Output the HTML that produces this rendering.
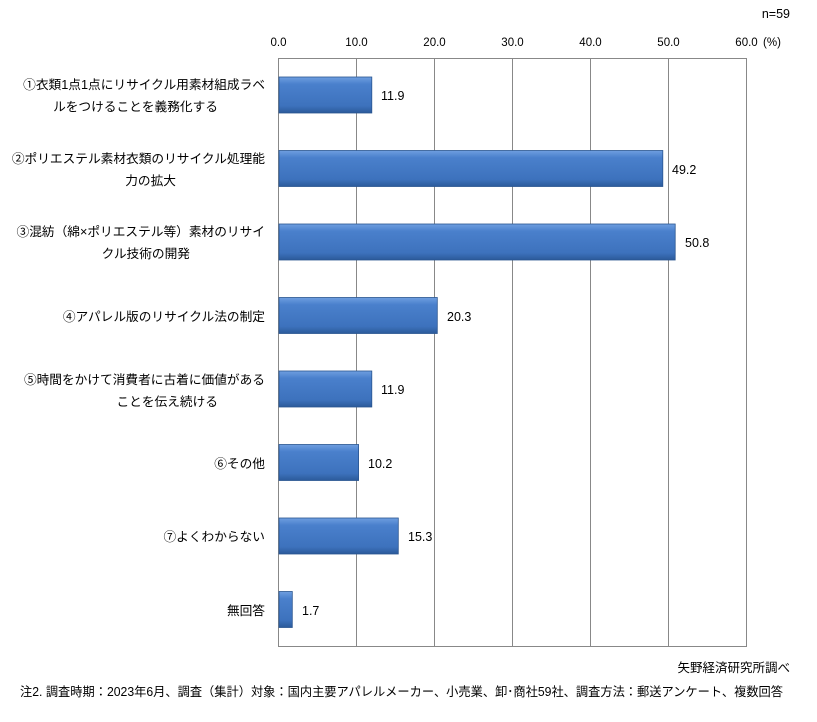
<!DOCTYPE html>
<html><head><meta charset="utf-8"><style>
body{margin:0;background:#fff}
svg text{font-family:"Liberation Sans","Noto Sans CJK JP",sans-serif;fill:#000}
</style></head><body>
<svg width="817" height="717" viewBox="0 0 817 717">
<defs>
<linearGradient id="g" x1="0" y1="0" x2="0" y2="1">
<stop offset="0" stop-color="#6f9fe0"/><stop offset="0.2" stop-color="#4a80cc"/><stop offset="0.8" stop-color="#3d72bd"/><stop offset="1" stop-color="#2b5a9a"/>
</linearGradient>
</defs>
<text x="790" y="18" font-size="12.5" text-anchor="end">n=59</text>
<g font-size="11.5" text-anchor="middle">
<text x="278.5" y="46">0.0</text><text x="356.5" y="46">10.0</text><text x="434.5" y="46">20.0</text><text x="512.5" y="46">30.0</text><text x="590.5" y="46">40.0</text><text x="668.5" y="46">50.0</text><text x="746.5" y="46">60.0</text>
<text x="772" y="46">(%)</text>
</g>
<g stroke="#888" stroke-width="1" fill="none">
<rect x="278.5" y="58.5" width="468" height="588"/>
<line x1="356.5" y1="58" x2="356.5" y2="646"/><line x1="434.5" y1="58" x2="434.5" y2="646"/><line x1="512.5" y1="58" x2="512.5" y2="646"/><line x1="590.5" y1="58" x2="590.5" y2="646"/><line x1="668.5" y1="58" x2="668.5" y2="646"/>
</g>
<g fill="url(#g)" stroke="#2a5590" stroke-width="0.8">
<rect x="279" y="77" width="92.8" height="36"/>
<rect x="279" y="150.5" width="383.8" height="36"/>
<rect x="279" y="224" width="396.2" height="36"/>
<rect x="279" y="297.5" width="158.3" height="36"/>
<rect x="279" y="371" width="92.8" height="36"/>
<rect x="279" y="444.5" width="79.6" height="36"/>
<rect x="279" y="518" width="119.3" height="36"/>
<rect x="279" y="591.5" width="13.3" height="36"/>
</g>
<g font-size="12.5">
<text x="381" y="100">11.9</text><text x="672" y="174">49.2</text><text x="685" y="247">50.8</text><text x="447" y="321">20.3</text><text x="381" y="394">11.9</text><text x="368" y="468">10.2</text><text x="408" y="541">15.3</text><text x="302" y="615">1.7</text>
</g>
<g font-size="12.7" text-anchor="end">
<text x="265" y="89">①衣類1点1点にリサイクル用素材組成ラベ</text><text x="218" y="111">ルをつけることを義務化する</text>
<text x="265" y="163">②ポリエステル素材衣類のリサイクル処理能</text><text x="176" y="185">力の拡大</text>
<text x="265" y="236">③混紡（綿×ポリエステル等）素材のリサイ</text><text x="190" y="258">クル技術の開発</text>
<text x="265" y="321">④アパレル版のリサイクル法の制定</text>
<text x="265" y="384">⑤時間をかけて消費者に古着に価値がある</text><text x="218" y="406">ことを伝え続ける</text>
<text x="265" y="468">⑥その他</text>
<text x="265" y="541">⑦よくわからない</text>
<text x="265" y="615">無回答</text>
</g>
<text x="790" y="672" font-size="12.5" text-anchor="end">矢野経済研究所調べ</text>
<text x="20" y="696" font-size="12.5" textLength="763" lengthAdjust="spacingAndGlyphs">注2. 調査時期：2023年6月、調査（集計）対象：国内主要アパレルメーカー、小売業、卸･商社59社、調査方法：郵送アンケート、複数回答</text>
</svg>
</body></html>
